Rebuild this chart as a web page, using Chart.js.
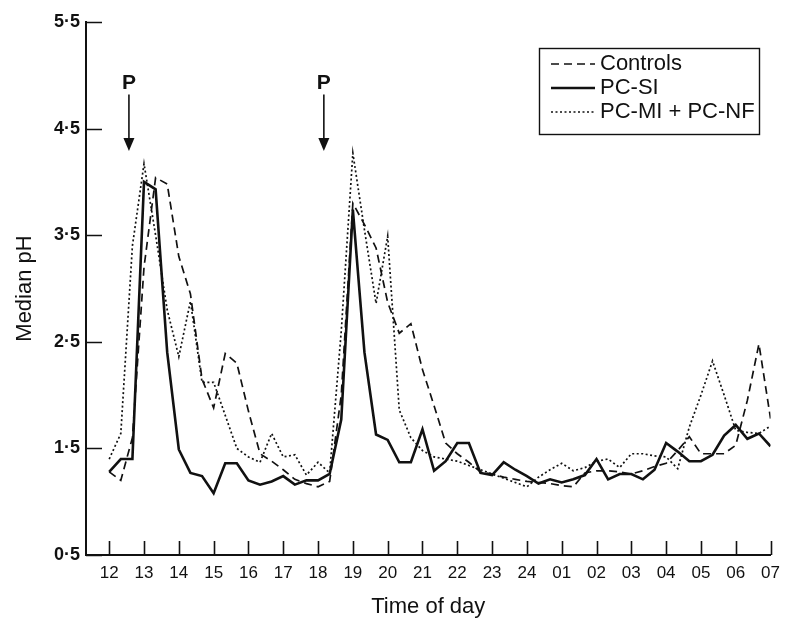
<!DOCTYPE html>
<html>
<head>
<meta charset="utf-8">
<script src="https://cdn.jsdelivr.net/npm/chart.js@4.4.1/dist/chart.umd.min.js"></script>
<style>
  html, body { margin: 0; padding: 0; background: #fff; }
  canvas { display: block; }
</style>
</head>
<body>
<canvas id="ph-chart" width="788" height="618"></canvas>
<script>
// Sample times in minutes after 12:00, every 20 min through to 07:00 next morning
const sampleMinutes = [
  0, 20, 40, 60, 80, 100, 120, 140, 160, 180, 200, 220, 240, 260, 280, 300, 320, 340, 360, 380,
  400, 420, 440, 460, 480, 500, 520, 540, 560, 580, 600, 620, 640, 660, 680, 700, 720, 740, 760, 780,
  800, 820, 840, 860, 880, 900, 920, 940, 960, 980, 1000, 1020, 1040, 1060, 1080, 1100, 1120, 1140
];

const hourTicks  = [0, 60, 120, 180, 240, 300, 360, 420, 480, 540, 600, 660, 720, 780, 840, 900, 960, 1020, 1080, 1140];
const hourLabels = ['12', '13', '14', '15', '16', '17', '18', '19', '20', '21', '22', '23', '24', '01', '02', '03', '04', '05', '06', '07'];
const phTicks    = [0.5, 1.5, 2.5, 3.5, 4.5, 5.5];

// median pH per group
const controls = [
  1.28, 1.20, 1.60, 3.20, 4.04, 3.98, 3.30, 2.95, 2.15, 1.88, 2.39, 2.30, 1.85, 1.45, 1.38, 1.30, 1.21, 1.17, 1.14, 1.19,
  2.00, 3.80, 3.60, 3.38, 2.87, 2.58, 2.67, 2.24, 1.90, 1.55, 1.45, 1.37, 1.28, 1.26, 1.23, 1.21, 1.19, 1.18, 1.17, 1.15,
  1.14, 1.27, 1.29, 1.29, 1.28, 1.26, 1.29, 1.33, 1.36, 1.48, 1.61, 1.45, 1.45, 1.45, 1.53, 1.95, 2.48, 1.78
];
const pcSi = [
  1.28, 1.40, 1.40, 4.00, 3.93, 2.40, 1.49, 1.27, 1.24, 1.08, 1.36, 1.36, 1.20, 1.16, 1.19, 1.24, 1.16, 1.20, 1.20, 1.26,
  1.77, 3.74, 2.40, 1.63, 1.58, 1.37, 1.37, 1.68, 1.29, 1.38, 1.55, 1.55, 1.27, 1.25, 1.37, 1.30, 1.24, 1.17, 1.21, 1.18,
  1.21, 1.25, 1.40, 1.21, 1.26, 1.26, 1.21, 1.30, 1.55, 1.47, 1.38, 1.38, 1.44, 1.62, 1.72, 1.59, 1.64, 1.52
];
const pcMiNf = [
  1.40, 1.64, 3.40, 4.17, 3.50, 2.80, 2.36, 2.88, 2.12, 2.12, 1.81, 1.50, 1.42, 1.37, 1.64, 1.42, 1.44, 1.25, 1.37, 1.27,
  2.60, 4.27, 3.55, 2.86, 3.49, 1.86, 1.60, 1.48, 1.42, 1.40, 1.38, 1.34, 1.30, 1.26, 1.22, 1.18, 1.14, 1.23, 1.30, 1.36,
  1.29, 1.32, 1.38, 1.40, 1.32, 1.45, 1.45, 1.43, 1.42, 1.31, 1.70, 2.00, 2.32, 2.00, 1.67, 1.65, 1.64, 1.71
];

// "P" meal markers: time (min after 12:00) and the pH band the arrow occupies
const mealMinutes  = [34, 370];
const mealLabelPh  = 4.93;
const mealArrowTop = 4.82;
const mealArrowTip = 4.29;

const INK  = '#111';
const FONT = "'Liberation Sans', Arial, Helvetica, sans-serif";

const phText = v => v.toFixed(1).replace('.', '\u00b7');
const points = vals => sampleMinutes.map((m, i) => ({ x: m, y: vals[i] }));

// tick marks pointing into the plot
const inwardTicks = {
  id: 'inwardTicks',
  afterDraw(chart) {
    const { ctx, scales: { x, y } } = chart;
    ctx.save();
    ctx.strokeStyle = INK;
    ctx.lineWidth   = 1.6;
    ctx.beginPath();
    x.ticks.forEach(t => {
      const px = Math.round(x.getPixelForValue(t.value)) + 0.5;
      ctx.moveTo(px, x.top);
      ctx.lineTo(px, x.top - 14);
    });
    y.ticks.forEach(t => {
      const py = Math.round(y.getPixelForValue(t.value)) + 0.5;
      ctx.moveTo(y.right, py);
      ctx.lineTo(y.right + 16, py);
    });
    ctx.stroke();
    ctx.restore();
  }
};

// "P" with a down arrow at each meal
const mealMarks = {
  id: 'mealMarks',
  afterDatasetsDraw(chart) {
    const { ctx, scales: { x, y } } = chart;
    ctx.save();
    ctx.fillStyle   = INK;
    ctx.strokeStyle = INK;
    ctx.lineWidth   = 1.6;
    ctx.font         = 'bold 21px ' + FONT;
    ctx.textAlign    = 'center';
    ctx.textBaseline = 'middle';
    mealMinutes.forEach(m => {
      const px  = x.getPixelForValue(m);
      const top = y.getPixelForValue(mealArrowTop);
      const tip = y.getPixelForValue(mealArrowTip);
      ctx.fillText('P', px, y.getPixelForValue(mealLabelPh));
      ctx.beginPath();
      ctx.moveTo(px, top);
      ctx.lineTo(px, tip - 10);
      ctx.stroke();
      ctx.beginPath();
      ctx.moveTo(px - 5.5, tip - 13);
      ctx.lineTo(px + 5.5, tip - 13);
      ctx.lineTo(px, tip);
      ctx.closePath();
      ctx.fill();
    });
    ctx.restore();
  }
};

// boxed key in the upper right
const boxLegend = {
  id: 'boxLegend',
  afterDraw(chart) {
    const ctx  = chart.ctx;
    const area = chart.chartArea;
    const left = area.left + 453, top = 48, width = 220, rowH = 24;
    const sets = chart.data.datasets;

    ctx.save();
    ctx.strokeStyle = INK;
    ctx.lineWidth   = 1.4;
    ctx.strokeRect(left + 0.5, top + 0.5, width, 14 + rowH * sets.length);

    ctx.font         = '22px ' + FONT;
    ctx.fillStyle    = INK;
    ctx.textBaseline = 'middle';
    sets.forEach((ds, i) => {
      const cy = top + 16 + rowH * i;
      ctx.beginPath();
      ctx.setLineDash(ds.borderDash || []);
      ctx.lineWidth = ds.borderWidth;
      ctx.moveTo(left + 12, cy);
      ctx.lineTo(left + 56, cy);
      ctx.stroke();
      ctx.setLineDash([]);
      ctx.fillText(ds.label, left + 61, cy);
    });
    ctx.restore();
  }
};

new Chart(document.querySelector('#ph-chart'), {
  type: 'line',
  data: {
    datasets: [
      {
        label: 'Controls',
        data: points(controls),
        borderColor: INK,
        borderWidth: 1.7,
        borderDash: [8, 5]
      },
      {
        label: 'PC-SI',
        data: points(pcSi),
        borderColor: INK,
        borderWidth: 2.6,
        borderDash: []
      },
      {
        label: 'PC-MI + PC-NF',
        data: points(pcMiNf),
        borderColor: INK,
        borderWidth: 1.7,
        borderDash: [2, 2.5]
      }
    ]
  },
  options: {
    responsive: false,
    devicePixelRatio: 1,
    animation: false,
    elements: {
      point: { radius: 0, hoverRadius: 0 },
      line: { tension: 0, fill: false, borderJoinStyle: 'miter' }
    },
    layout: { padding: { top: 22, right: 9, left: 0, bottom: 0 } },
    plugins: {
      legend: { display: false },
      tooltip: { enabled: false }
    },
    scales: {
      x: {
        type: 'linear',
        min: -40,
        max: 1140,
        afterBuildTicks: s => { s.ticks = hourTicks.map(v => ({ value: v })); },
        afterFit: s => { s.height = 63; },
        grid: { display: false, drawTicks: false },
        border: { display: true, color: INK, width: 2 },
        ticks: {
          color: INK,
          padding: 8,
          autoSkip: false,
          maxRotation: 0,
          font: { family: FONT, size: 17 },
          callback: (v, i) => hourLabels[i]
        },
        title: {
          display: true,
          text: 'Time of day',
          color: INK,
          font: { family: FONT, size: 22, lineHeight: 1 },
          padding: { top: 0, bottom: 0 }
        }
      },
      y: {
        min: 0.5,
        max: 5.5,
        afterBuildTicks: s => { s.ticks = phTicks.map(v => ({ value: v })); },
        afterFit: s => { s.width = 86; },
        grid: { display: false, drawTicks: false },
        border: { display: true, color: INK, width: 2 },
        ticks: {
          color: INK,
          padding: 6,
          font: { family: FONT, size: 18, weight: 'bold' },
          callback: v => phText(v)
        },
        title: {
          display: true,
          text: 'Median pH',
          color: INK,
          font: { family: FONT, size: 22, lineHeight: 1 },
          padding: { top: 14, bottom: 0 }
        }
      }
    }
  },
  plugins: [inwardTicks, mealMarks, boxLegend]
});
</script>
</body>
</html>
